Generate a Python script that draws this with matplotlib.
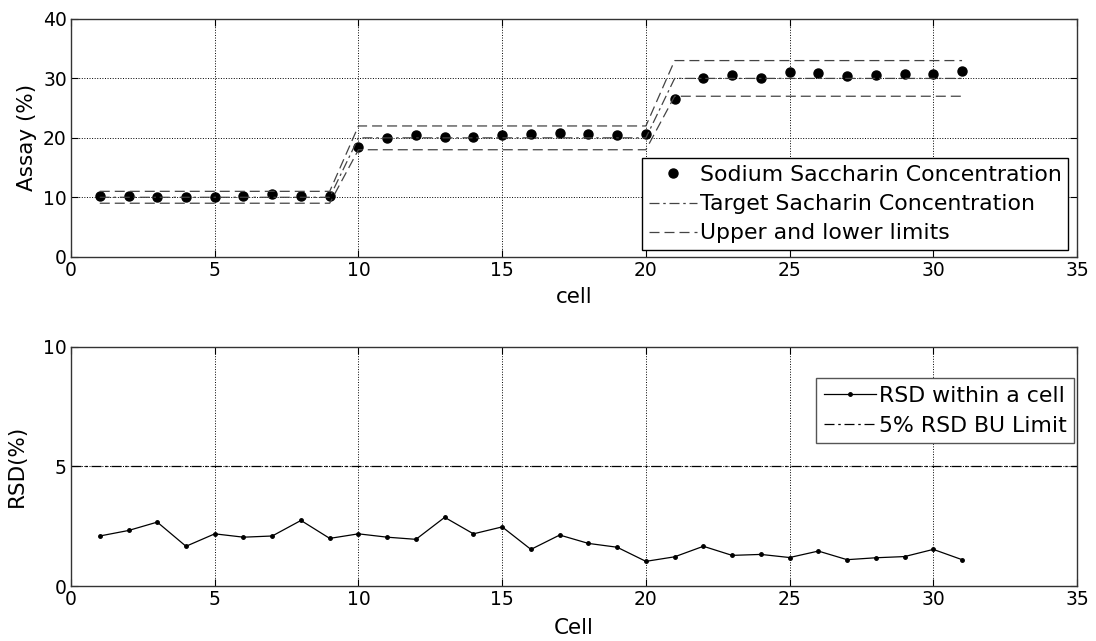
import matplotlib
matplotlib.use("Agg")
import matplotlib.pyplot as plt
import numpy as np

plt.rcParams['font.family'] = ['DejaVu Sans']

cells = list(range(1, 32))
sodium = [10.3, 10.3, 10.0, 10.1, 10.1, 10.3, 10.5, 10.3, 10.3,
          18.4, 20.0, 20.4, 20.2, 20.2, 20.5, 20.7, 20.8, 20.6, 20.4, 20.7,
          26.5, 30.0, 30.5, 30.0, 31.1, 30.9, 30.4, 30.6, 30.8, 30.8, 31.3]
target = [10]*9 + [20]*11 + [30]*11
upper = [11]*9 + [22]*11 + [33]*11
lower = [9]*9 + [18]*11 + [27]*11

rsd = [2.09, 2.32, 2.67, 1.66, 2.18, 2.04, 2.09, 2.74, 1.99, 2.18,
       2.04, 1.95, 2.87, 2.18, 2.47, 1.53, 2.13, 1.78, 1.62, 1.03,
       1.22, 1.66, 1.28, 1.32, 1.19, 1.46, 1.10, 1.18, 1.23, 1.53, 1.10]
rsd_limit_x = [0, 35]
rsd_limit = [5, 5]

FS = 13.5
LFS = 15.5
LEGFS = 15.8
fig = plt.figure(figsize=(10.96, 6.41), dpi=100)
ax1 = fig.add_axes([0.0648, 0.5995, 0.9179, 0.3709])
ax2 = fig.add_axes([0.0648, 0.0858, 0.9179, 0.3733])

def style(ax):
    ax.grid(True, linestyle=':', color='black', linewidth=0.7)
    ax.tick_params(direction='in', top=True, right=True, labelsize=FS, length=5, pad=3)
    for s in ax.spines.values():
        s.set_color('#333333')
        s.set_linewidth(1.0)

ax1.plot(cells, sodium, 'o', color='black', markersize=6.5, label='Sodium Saccharin Concentration')
ax1.plot(cells, target, color='#444444', linewidth=0.9, dashes=(8, 3, 2, 3), label='Target Sacharin Concentration')
ax1.plot(cells, upper, color='#444444', linewidth=0.9, dashes=(8, 4), label='Upper and lower limits')
ax1.plot(cells, lower, color='#444444', linewidth=0.9, dashes=(8, 4))
ax1.set_xlim(0, 35)
ax1.set_ylim(0, 40)
ax1.set_xticks(range(0, 36, 5))
ax1.set_yticks(range(0, 41, 10))
ax1.set_xlabel('cell', fontsize=LFS, labelpad=5)
ax1.set_ylabel('Assay (%)', fontsize=LFS, labelpad=4)
style(ax1)
leg1 = ax1.legend(loc='lower right', bbox_to_anchor=(0.991, 0.028), fontsize=LEGFS,
                  frameon=True, fancybox=False, handlelength=2.2, handletextpad=0.1,
                  borderpad=0.3, labelspacing=0.42, borderaxespad=0)
leg1.get_frame().set_edgecolor('black')
leg1.get_frame().set_linewidth(1.0)
leg1.get_frame().set_alpha(1)

ax2.plot(cells, rsd, '-', color='black', linewidth=0.9, marker='.', markersize=5, label='RSD within a cell')
ax2.plot(rsd_limit_x, rsd_limit, color='black', linewidth=0.9, dashes=(8, 3, 2, 3), label='5% RSD BU Limit')
ax2.set_xlim(0, 35)
ax2.set_ylim(0, 10)
ax2.set_xticks(range(0, 36, 5))
ax2.set_yticks([0, 5, 10])
ax2.set_xlabel('Cell', fontsize=LFS, labelpad=6)
ax2.set_ylabel('RSD(%)', fontsize=LFS, labelpad=12)
style(ax2)
leg2 = ax2.legend(loc='upper right', bbox_to_anchor=(0.997, 0.869), fontsize=LEGFS,
                  frameon=True, fancybox=False, handlelength=2.4, handletextpad=0.1,
                  borderpad=0.35, labelspacing=0.45, borderaxespad=0)
leg2.get_frame().set_edgecolor('#555555')
leg2.get_frame().set_linewidth(1.0)
leg2.get_frame().set_alpha(1)

fig.savefig('out.png', dpi=100)
